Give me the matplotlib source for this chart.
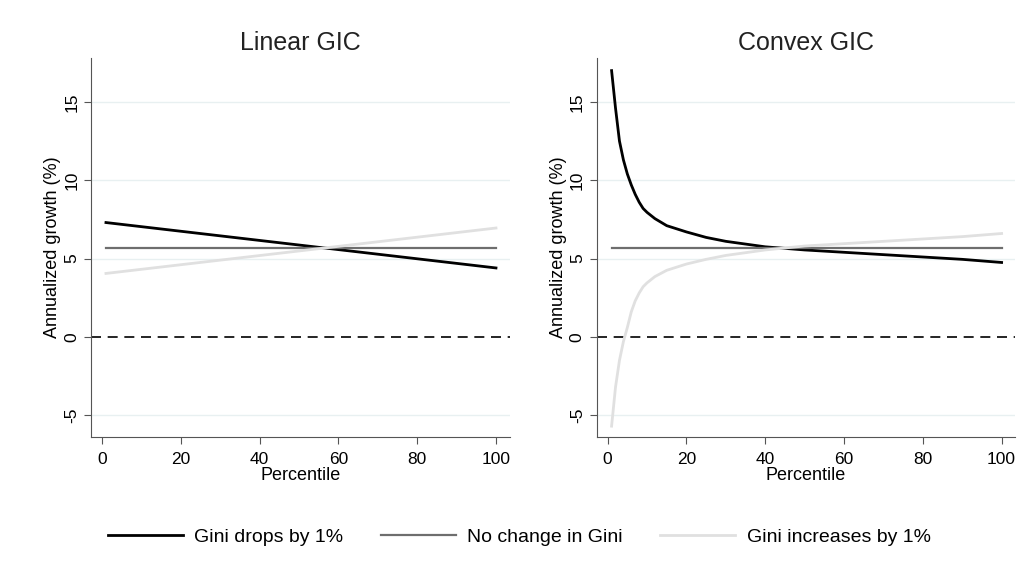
import numpy as np
import matplotlib
matplotlib.use('Agg')
import matplotlib.pyplot as plt

plt.rcParams['font.family'] = ['Liberation Sans', 'DejaVu Sans']
plt.rcParams['axes.unicode_minus'] = False

# Linear GIC (straight lines between the endpoints)
lin_pct = [1, 100]
lin_drop = [7.3, 4.4]
lin_same = [5.65, 5.65]
lin_rise = [4.05, 6.95]

# Convex GIC
cvx_pct = [1, 2, 3, 4, 5, 6, 7, 8, 9, 10, 12, 15, 20, 25, 30, 40, 50, 60, 70, 80, 90, 100]
cvx_drop = [17.0, 14.6, 12.5, 11.3, 10.4, 9.7, 9.1, 8.6, 8.2, 7.95, 7.55, 7.1, 6.7, 6.35,
            6.1, 5.75, 5.55, 5.4, 5.25, 5.1, 4.95, 4.75]
cvx_rise = [-5.7, -3.2, -1.5, -0.3, 0.6, 1.6, 2.3, 2.8, 3.2, 3.45, 3.85, 4.25, 4.65, 4.95,
            5.2, 5.55, 5.8, 5.95, 6.1, 6.25, 6.4, 6.6]
cvx_same = [5.65] * len(cvx_pct)

titles = ['Linear GIC', 'Convex GIC']
labels = ['Gini drops by 1%', 'No change in Gini', 'Gini increases by 1%']
colors = ['#000000', '#6e6e6e', '#e0e0e0']

fig = plt.figure(figsize=(10.34, 5.64), dpi=100)
ax1 = fig.add_axes([0.088, 0.225, 0.405, 0.672])
ax2 = fig.add_axes([0.577, 0.225, 0.405, 0.672])

panels = [
    (ax1, lin_pct, [lin_drop, lin_same, lin_rise]),
    (ax2, cvx_pct, [cvx_drop, cvx_same, cvx_rise]),
]

handles = []
for (ax, pct, series), title in zip(panels, titles):
    for yv in [-5, 5, 10, 15]:
        ax.axhline(yv, color='#e8f0f1', lw=1, zorder=0)
    ax.axhline(0, color='black', lw=1.2, ls=(0, (6, 4)), zorder=1)
    hs = []
    for vals, c, lab in zip(series, colors, labels):
        h, = ax.plot(pct, vals, color=c, lw=2 if c != '#6e6e6e' else 1.6, label=lab, zorder=3)
        hs.append(h)
    handles = hs
    ax.set_xlim(-2.8, 103.5)
    ax.set_ylim(-6.4, 17.8)
    ax.set_xticks([0, 20, 40, 60, 80, 100])
    ax.set_yticks([-5, 0, 5, 10, 15])
    for lbl in ax.get_yticklabels():
        lbl.set_rotation(90)
        lbl.set_va('center')
    ax.tick_params(labelsize=12.5, color='#555555', length=5)
    ax.tick_params(axis='x', pad=6)
    ax.set_xlabel('Percentile', fontsize=13, labelpad=0)
    ax.set_ylabel('Annualized growth (%)', fontsize=13, labelpad=2)
    ax.set_title(title, fontsize=18, color='#222222', pad=6)
    for s in ['top', 'right']:
        ax.spines[s].set_visible(False)
    for s in ['left', 'bottom']:
        ax.spines[s].set_color('#555555')

fig.legend(handles, labels, loc='center', bbox_to_anchor=(0.502, 0.048), ncol=3,
           frameon=False, fontsize=14, handlelength=3.86, columnspacing=1.95,
           handletextpad=0.57)

fig.savefig('out.png', dpi=100, facecolor='white')
